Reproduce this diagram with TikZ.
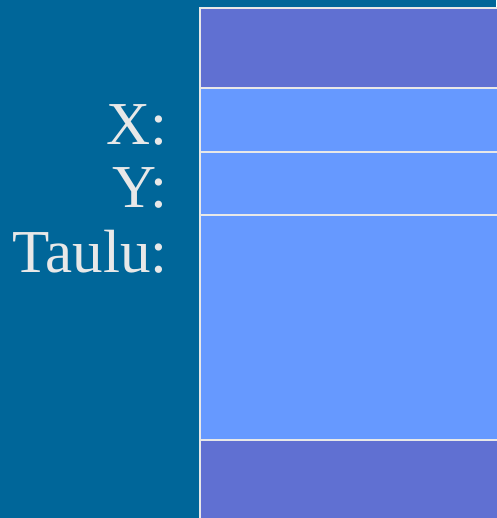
\documentclass[tikz,border=0pt]{standalone}
\usepackage{fontspec}
\setmainfont{Liberation Serif}
\definecolor{bg}{HTML}{006699}
\definecolor{dark}{HTML}{6070D2}
\definecolor{light}{HTML}{6699FF}
\definecolor{txt}{HTML}{E8E8E8}
\definecolor{edge}{HTML}{E8E8E8}
\begin{document}
\begin{tikzpicture}[x=1pt,y=-1pt,
  cell/.style={draw=edge,line width=2.4pt},
  lbl/.style={anchor=base east,text=txt,inner sep=0pt,font=\fontsize{61}{61}\selectfont}]
\fill[bg] (0,0) rectangle (496,518);
\useasboundingbox (0,0) rectangle (496,518);
\draw[cell,fill=dark] (200,8) rectangle (510,88);
\draw[cell,fill=light] (200,88) rectangle (510,152);
\draw[cell,fill=light] (200,152) rectangle (510,215);
\draw[cell,fill=light] (200,215) rectangle (510,440);
\draw[cell,fill=dark] (200,440) rectangle (510,530);
\node[lbl] (x) at (168,145) {X:};
\node[lbl] (y) at (168,208) {Y:};
\node[lbl] (t) at (168,272) {Taulu:};
\end{tikzpicture}
\end{document}
